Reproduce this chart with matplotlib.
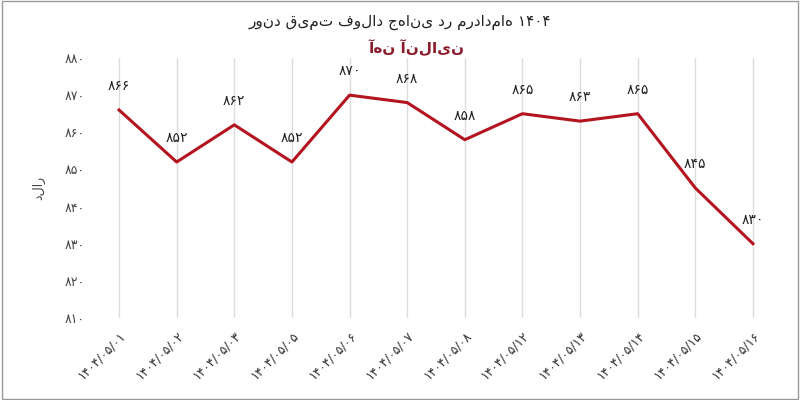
import matplotlib
matplotlib.use("Agg")
import matplotlib.pyplot as plt
from matplotlib.patches import Rectangle

plt.rcParams['font.family'] = ['DejaVu Sans']

dates = ["۱۴۰۴/۰۵/۰۱", "۱۴۰۴/۰۵/۰۲", "۱۴۰۴/۰۵/۰۳", "۱۴۰۴/۰۵/۰۵", "۱۴۰۴/۰۵/۰۶", "۱۴۰۴/۰۵/۰۷",
         "۱۴۰۴/۰۵/۰۸", "۱۴۰۴/۰۵/۱۲", "۱۴۰۴/۰۵/۱۳", "۱۴۰۴/۰۵/۱۴", "۱۴۰۴/۰۵/۱۵", "۱۴۰۴/۰۵/۱۶"]
prices = [866, 852, 862, 852, 870, 868, 858, 865, 863, 865, 845, 830]
yticks = [810, 820, 830, 840, 850, 860, 870, 880]
title = "روند قیمت فولاد جهانی در مردادماه ۱۴۰۴"
brand = "آهن آنلاین"
ylabel = "دلار"

def fa(n):
    return str(n).translate(str.maketrans("0123456789", "۰۱۲۳۴۵۶۷۸۹"))

fig = plt.figure(figsize=(8, 4), dpi=100)
ax = fig.add_axes([0.12, 0.205, 0.85, 0.65])
x = list(range(len(prices)))
ax.plot(x, prices, color="#b3141f", lw=2.2, zorder=3)
for xi, v in zip(x, prices):
    ax.annotate(fa(v), (xi, v), xytext=(0, 12), textcoords="offset points",
                ha="center", va="bottom", fontsize=10, color="#222")
ax.set_ylim(810, 880)
ax.set_xlim(-0.4, len(prices) - 0.6)
ax.set_yticks(yticks)
ax.set_yticklabels([fa(t) for t in yticks], fontsize=9, color="#444")
ax.set_xticks(x)
ax.set_xticklabels(dates, rotation=45, ha="right", rotation_mode="anchor", fontsize=9, color="#333")
ax.grid(axis="x", color="#dddddd", lw=1)
for s in ax.spines.values():
    s.set_visible(False)
ax.tick_params(length=0, pad=8)
ax.set_ylabel(ylabel, fontsize=9, color="#444", labelpad=14)
fig.text(0.5, 0.945, title, ha="center", va="center", fontsize=11, color="#222")
fig.text(0.52, 0.88, brand, ha="center", va="center", fontsize=11, color="#8a1c2b", fontweight="bold")
fig.patches.append(Rectangle((0.002, 0.003), 0.996, 0.994, transform=fig.transFigure,
                             fill=False, edgecolor="#999", lw=1))
fig.savefig("out.png", dpi=100)
